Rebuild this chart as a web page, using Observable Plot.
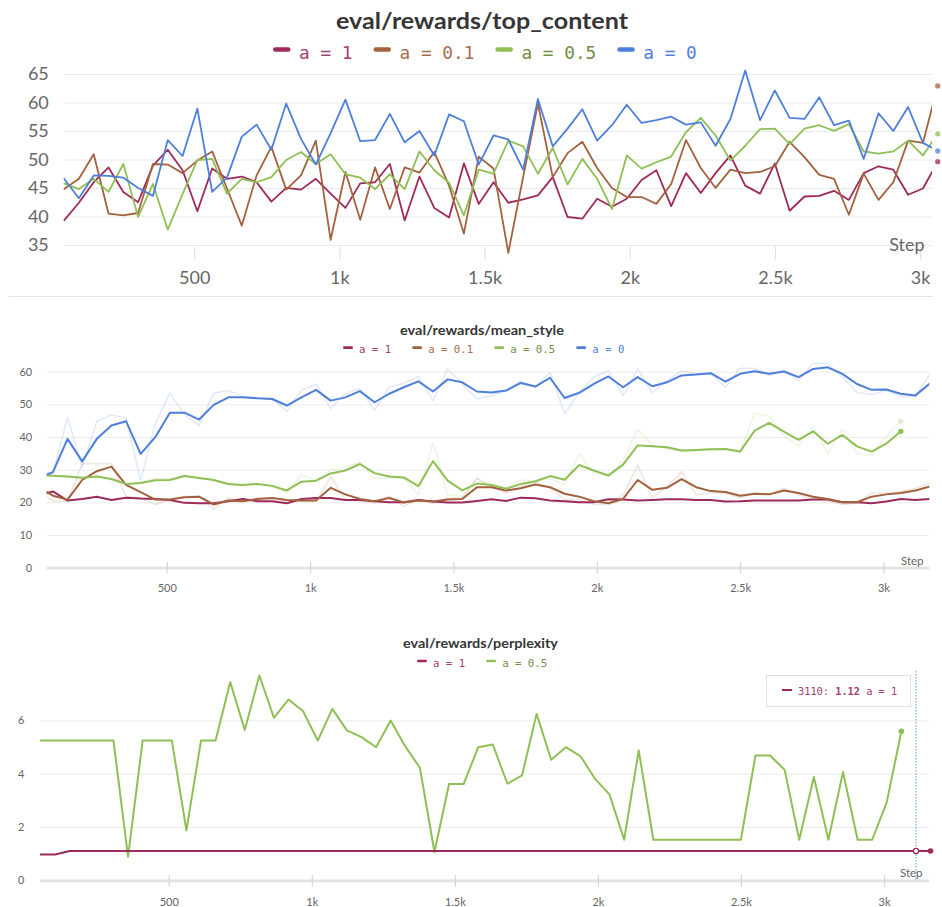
<!DOCTYPE html>
<html>
<head>
<meta charset="utf-8">
<script src="https://cdn.jsdelivr.net/npm/d3@7"></script>
<script src="https://cdn.jsdelivr.net/npm/@observablehq/plot@0.6"></script>
<style>
html,body{margin:0;padding:0;background:#fff;}
#page{position:relative;width:942px;height:907px;overflow:hidden;font-family:Lato,"Open Sans",sans-serif;}
.panel{position:absolute;left:0;}
#sep{position:absolute;left:9px;top:296px;width:924px;height:0;border-top:1px solid #e3e3e3;}
#tip{position:absolute;left:766px;top:675px;width:145px;height:32px;border:1px solid #e0e0e0;background:#fff;box-sizing:border-box;font-family:"DejaVu Sans Mono",monospace;font-size:10.3px;color:#a3406f;display:flex;align-items:center;white-space:pre;}
#tip .sw{display:inline-block;width:10px;height:2.6px;background:#9e2a5b;margin-left:15px;margin-right:6px;position:relative;top:-1px;}
#overlay{position:absolute;left:0;top:0;pointer-events:none;}
</style>
</head>
<body>
<div id="page">
  <div id="p1" class="panel" style="top:60px"></div>
  <div id="sep"></div>
  <div id="p2" class="panel" style="top:358px"></div>
  <div id="p3" class="panel" style="top:668px"></div>
  <div id="tip"></div>
  <svg id="overlay" width="942" height="907"></svg>
</div>
<script>
// ---------------- data ----------------
const steps = [50,101,152,203,254,305,356,407,458,509,560,611,662,713,764,815,866,917,968,1019,1070,1121,1172,1223,1274,1325,1376,1427,1478,1529,1580,1631,1682,1733,1784,1835,1886,1937,1988,2039,2090,2141,2192,2243,2294,2345,2396,2447,2498,2549,2600,2651,2702,2753,2804,2855,2906,2957,3008,3059,3110,3161,3212];

const seriesNames = ["a = 1", "a = 0.1", "a = 0.5", "a = 0"];
const xTickValues = [500, 1000, 1500, 2000, 2500, 3000];

// eval/rewards/top_content
const topTitle = "eval/rewards/top_content";
const topYTicks = [35, 40, 45, 50, 55, 60, 65];
const topA1 = [39.4,42.5,46.1,48.7,44.4,42.6,49.0,51.8,48.2,41.0,
  48.5,46.7,47.1,46.1,42.7,45.1,44.8,46.7,44.1,41.6,
  45.9,46.1,49.3,39.4,47.1,41.6,39.9,49.4,42.3,46.1,
  42.5,43.1,43.8,47.0,40.0,39.7,43.2,41.8,43.2,46.5,
  48.2,41.9,47.7,44.2,47.7,50.8,45.5,44.1,49.4,41.1,
  43.6,43.7,44.6,43.0,47.7,48.9,48.3,43.9,45.0,49.7];
const topA01 = [44.9,46.7,51.0,40.6,40.3,40.7,49.3,49.2,47.7,49.9,
  51.5,45.0,38.5,47.3,52.3,44.8,47.3,53.4,36.0,47.9,
  39.5,48.7,41.4,48.7,47.8,51.4,45.5,37.1,50.6,48.5,
  33.7,47.0,59.9,47.0,51.2,53.2,48.6,45.1,43.5,43.5,
  42.3,45.8,53.5,48.6,45.1,48.3,47.7,47.9,48.9,53.2,
  50.5,47.4,46.7,40.4,47.6,43.0,46.1,53.4,53.0,63.0];
const topA05 = [45.9,44.9,46.7,44.4,49.3,40.0,45.8,37.8,44.0,50.0,
  50.2,44.1,46.7,46.1,47.0,50.0,51.4,49.3,51.0,47.5,
  46.9,44.9,47.5,44.9,51.5,48.2,46.0,40.3,48.3,47.6,
  53.4,52.4,47.6,52.1,45.7,50.2,46.7,41.4,50.8,48.5,
  49.6,50.6,54.9,57.4,54.3,49.9,52.5,55.4,55.5,52.8,
  55.5,56.1,55.1,56.3,51.5,51.1,51.5,53.4,50.8,54.6];
const topA0 = [46.7,43.3,47.3,47.2,46.9,45.1,43.7,53.5,50.7,59.0,
  44.4,46.9,54.1,56.2,51.8,59.9,53.7,49.2,54.7,60.6,
  53.3,53.5,58.1,53.1,55.1,50.8,58.0,56.8,49.2,54.3,
  53.6,48.3,60.7,52.4,55.5,58.9,53.4,56.1,59.7,56.5,
  57.0,57.6,56.2,56.6,52.5,57.2,65.7,57.0,62.2,57.4,
  57.2,61.0,56.1,56.9,50.2,58.2,55.1,59.3,53.0,51.6];

// eval/rewards/mean_style (smoothed + raw)
const msTitle = "eval/rewards/mean_style";
const msYTicks = [0, 10, 20, 30, 40, 50, 60];
const msA1 = [22.3,23.5,20.7,21.2,21.9,20.9,21.6,21.3,21.2,20.9,
  20.0,19.9,19.9,20.5,21.2,20.5,20.5,19.9,21.2,21.5,
  21.5,20.9,20.9,20.5,20.2,20.2,20.9,20.4,20.1,20.1,
  20.6,21.1,20.6,21.6,21.4,20.7,20.5,20.2,20.2,21.1,
  21.0,20.7,20.9,21.1,21.1,20.9,20.9,20.4,20.5,20.7,
  20.7,20.7,20.7,21.0,21.0,20.2,20.2,19.9,20.4,21.2,
  20.9,21.2,21.4];
const msA01 = [24.9,22.2,21.0,27.0,29.7,31.1,25.5,23.3,21.0,21.0,
  21.7,21.9,19.5,20.7,20.5,21.2,21.5,20.9,20.7,20.7,
  24.6,22.6,21.2,20.5,21.5,20.1,20.7,20.4,21.0,21.2,
  24.8,24.8,23.8,24.5,25.6,24.8,22.8,21.9,20.5,19.9,
  21.2,27.0,24.0,24.6,27.3,24.8,23.6,23.3,22.2,22.8,
  22.6,23.8,23.0,21.9,21.2,20.2,20.2,21.9,22.6,23.0,
  23.8,25.0,24.5];
const msA05 = [28.5,28.3,28.1,27.7,28.1,27.3,25.8,26.1,26.9,27.0,
  28.2,27.6,27.0,25.8,25.5,25.8,25.2,23.8,26.5,26.8,
  29.0,29.9,31.9,29.1,28.1,27.8,25.1,32.8,26.8,23.8,
  25.9,25.5,24.3,25.8,26.6,28.2,27.1,31.6,29.9,28.4,
  31.7,37.6,37.3,37.0,36.0,36.2,36.4,36.5,35.7,42.1,
  44.5,41.8,39.3,41.9,38.1,40.8,37.3,35.7,38.1,41.9];
const msA0 = [27.6,29.4,39.6,32.7,39.6,43.7,45.0,35.0,40.1,47.6,
  47.6,45.5,50.0,52.3,52.3,52.0,51.8,49.8,52.3,54.6,
  51.3,52.3,54.2,50.8,53.4,55.4,57.2,54.1,57.8,56.9,
  54.1,53.8,54.4,56.7,55.6,58.3,52.1,53.7,56.4,58.7,
  55.4,58.5,55.7,56.9,59.0,59.3,59.7,57.1,59.5,60.3,
  59.5,60.2,58.5,61.0,61.5,59.5,56.4,54.6,54.7,53.4,
  52.9,56.6,59.8];
const msRawA01 = [24.0,20.5,20.5,32.0,32.0,32.0,22.0,21.5,19.5,21.0,
  22.0,22.0,18.0,21.5,20.5,21.5,21.5,20.5,20.5,20.5,
  28.0,21.0,20.5,20.0,22.0,19.0,21.0,20.0,21.5,21.5,
  27.5,25.0,23.0,25.0,26.5,24.5,21.0,21.0,19.5,19.5,
  22.5,31.5,21.5,25.0,29.5,22.5,23.0,23.0,21.5,23.0,
  22.5,24.5,22.5,21.0,20.5,19.5,20.0,23.0,23.0,23.5,
  24.5,26.0,24.5];
const msRawA05 = [28.5,28.3,28.0,27.5,28.3,27.0,25.5,26.3,27.5,27.3,
  28.5,27.5,27.0,25.5,25.5,26.0,25.0,23.0,28.5,27.0,
  30.0,31.0,32.5,27.5,27.5,27.5,22.5,38.5,22.5,22.0,
  27.5,25.0,24.5,27.0,26.5,27.5,25.5,35.0,29.0,28.0,
  33.0,42.5,37.5,36.5,35.5,36.0,36.3,36.5,35.5,47.5,
  46.5,40.5,37.5,43.5,35.0,42.5,35.0,34.5,40.5,45.0];
const msRawA0 = [28.0,29.0,46.2,30.9,45.0,46.9,46.0,26.8,44.2,53.6,
  47.0,43.7,53.6,54.4,52.6,52.1,51.8,48.1,54.4,56.4,
  48.8,53.5,54.9,48.3,55.4,56.6,58.7,51.3,61.0,56.4,
  51.8,52.8,54.4,57.4,55.4,60.0,47.2,53.8,58.5,60.5,
  52.8,61.0,53.8,57.4,60.3,59.5,59.5,55.4,61.2,61.2,
  59.0,60.5,57.4,62.8,62.6,58.5,53.8,53.2,54.4,52.6,
  52.6,59.5,62.6];

// eval/rewards/perplexity
const pxTitle = "eval/rewards/perplexity";
const pxYTicks = [0, 2, 4, 6];
const pxA1 = [0.99,0.99,1.12,1.12,1.12,1.12,1.12,1.12,1.12,1.12,
  1.12,1.12,1.12,1.12,1.12,1.12,1.12,1.12,1.12,1.12,
  1.12,1.12,1.12,1.12,1.12,1.12,1.12,1.12,1.12,1.12,
  1.12,1.12,1.12,1.12,1.12,1.12,1.12,1.12,1.12,1.12,
  1.12,1.12,1.12,1.12,1.12,1.12,1.12,1.12,1.12,1.12,
  1.12,1.12,1.12,1.12,1.12,1.12,1.12,1.12,1.12,1.12,
  1.12,1.12];
const pxA05 = [5.26,5.26,5.26,5.26,5.26,5.26,0.9,5.26,5.26,5.26,
  1.89,5.26,5.26,7.45,5.66,7.7,6.11,6.8,6.36,5.26,
  6.45,5.64,5.39,5.01,6.01,5.04,4.24,1.08,3.63,3.63,
  5.01,5.11,3.64,3.95,6.26,4.54,5.01,4.68,3.83,3.23,
  1.54,4.89,1.54,1.54,1.54,1.54,1.54,1.54,1.54,4.70,
  4.70,4.16,1.54,3.89,1.54,4.08,1.54,1.54,2.95,5.61];
const pxHoverStep = 3110;
const pxHoverValue = 1.12;

// ---------------- style ----------------
const lineColors = {"a = 1": "#9e2a5b", "a = 0.1": "#a3613e", "a = 0.5": "#8fbf55", "a = 0": "#4d7fdb"};
const textColors = {"a = 1": "#a3406f", "a = 0.1": "#a86d4e", "a = 0.5": "#6e8f40", "a = 0": "#4d7fdb"};
const axisColor = "#666";
const fmtK = d => d >= 1000 ? (d / 1000) + "k" : String(d);

const xOf = (d, i) => steps[i];
function line(values, name, extra = {}) {
  return Plot.line(values, {x: xOf, y: d => d, stroke: lineColors[name], strokeWidth: 2, clip: true, ...extra});
}
function lastDot(values, name, extra = {}) {
  const idx = [values.length - 1];
  return Plot.dot(idx, {x: i => steps[i], y: i => values[i], fill: lineColors[name], r: 2.6, ...extra});
}

// ---------------- chart 1 ----------------
const topSeries = [[topA1, "a = 1"], [topA01, "a = 0.1"], [topA05, "a = 0.5"], [topA0, "a = 0"]];
const c1 = Plot.plot({
  width: 942, height: 230,
  marginTop: 8.3, marginBottom: 30.75, marginLeft: 63.6, marginRight: 10,
  style: {fontFamily: "Lato, 'Open Sans', sans-serif", background: "transparent", overflow: "visible"},
  x: {domain: [50, 3041], label: null},
  y: {domain: [32.5, 66], label: null},
  marks: [
    Plot.gridY(topYTicks, {stroke: "#e9e9e9", strokeOpacity: 1}),
    Plot.ruleX(xTickValues, {y1: 34.7, y2: 32.5, stroke: "#dcdcdc"}),
    Plot.axisX(xTickValues, {tickSize: 0, tickPadding: 11, tickFormat: fmtK, fontSize: 18, color: axisColor}),
    Plot.axisY(topYTicks, {tickSize: 0, tickPadding: 15.3, fontSize: 18, color: axisColor}),
    ...topSeries.map(([v, n]) => line(v, n, {strokeWidth: 1.8})),
    ...topSeries.map(([v, n]) => lastDot(v, n, {fillOpacity: 0.75})),
    Plot.text(["Step"], {frameAnchor: "bottom-right", textAnchor: "end", lineAnchor: "bottom", dx: -8, dy: -8.5, fontSize: 18, fill: axisColor})
  ]
});
document.getElementById("p1").appendChild(c1);

// ---------------- chart 2 ----------------
const msSeries = [[msA1, "a = 1"], [msA01, "a = 0.1"], [msA05, "a = 0.5"], [msA0, "a = 0"]];
const msRaw = [[msRawA01, "a = 0.1"], [msRawA05, "a = 0.5"], [msRawA0, "a = 0"]];
const c2 = Plot.plot({
  width: 942, height: 242,
  marginTop: 3.9, marginBottom: 32.3, marginLeft: 46.7, marginRight: 12.7,
  style: {fontFamily: "Lato, 'Open Sans', sans-serif", background: "transparent", overflow: "visible"},
  x: {domain: [81, 3160], label: null},
  y: {domain: [0, 63], label: null},
  marks: [
    Plot.gridY(msYTicks.filter(d => d > 0), {stroke: "#ececec", strokeOpacity: 1}),
    Plot.ruleY([0], {stroke: "#e2e2e2", strokeWidth: 2.7}),
    Plot.ruleX(xTickValues, {y1: 1.85, y2: -1.7, stroke: "#d6d6d6", strokeWidth: 1.2}),
    Plot.axisX(xTickValues, {tickSize: 0, tickPadding: 15.5, tickFormat: fmtK, fontSize: 11, color: axisColor}),
    Plot.axisY(msYTicks, {tickSize: 0, tickPadding: 15, fontSize: 11, color: axisColor}),
    ...msRaw.map(([v, n]) => line(v, n, {strokeWidth: 1.6, strokeOpacity: 0.16})),
    ...msSeries.map(([v, n]) => line(v, n, {strokeWidth: 2})),
    ...msRaw.map(([v, n]) => lastDot(v, n, {fillOpacity: 0.25})),
    ...msSeries.map(([v, n]) => lastDot(v, n, {fillOpacity: n === "a = 0.5" ? 1 : 0.6})),
    Plot.text(["Step"], {frameAnchor: "bottom-right", textAnchor: "end", lineAnchor: "bottom", dx: -6.3, dy: -3.5, fontSize: 11.5, fill: axisColor})
  ]
});
document.getElementById("p2").appendChild(c2);

// ---------------- chart 3 ----------------
const c3 = Plot.plot({
  width: 942, height: 239,
  marginTop: 3, marginBottom: 26.7, marginLeft: 40, marginRight: 12.8,
  style: {fontFamily: "Lato, 'Open Sans', sans-serif", background: "transparent", overflow: "visible"},
  x: {domain: [50, 3158], label: null},
  y: {domain: [0, 7.85], label: null},
  marks: [
    Plot.gridY(pxYTicks.filter(d => d > 0), {stroke: "#ececec", strokeOpacity: 1}),
    Plot.ruleY([0], {stroke: "#e2e2e2", strokeWidth: 2.7}),
    Plot.ruleX(xTickValues, {y1: 0.2, y2: -0.24, stroke: "#d6d6d6", strokeWidth: 1.2}),
    Plot.axisX(xTickValues, {tickSize: 0, tickPadding: 16.9, tickFormat: fmtK, fontSize: 11, color: axisColor}),
    Plot.axisY(pxYTicks, {tickSize: 0, tickPadding: 16, fontSize: 11, color: axisColor}),
    line(pxA05, "a = 0.5", {strokeWidth: 2}),
    line(pxA1, "a = 1", {strokeWidth: 2}),
    lastDot(pxA05, "a = 0.5", {r: 2.8}),
    lastDot(pxA1, "a = 1", {r: 2.8}),
    Plot.ruleX([pxHoverStep], {stroke: "#5b9bd5", strokeWidth: 1, strokeDasharray: "1.5,1.5"}),
    Plot.dot([pxHoverStep], {x: d => d, y: () => pxHoverValue, r: 2.6, stroke: lineColors["a = 1"], strokeWidth: 1.3, fill: "#fff"}),
    Plot.text(["Step"], {frameAnchor: "bottom-right", textAnchor: "end", lineAnchor: "bottom", dx: -7.2, dy: -3.8, fontSize: 11.5, fill: axisColor})
  ]
});
document.getElementById("p3").appendChild(c3);

// tooltip
document.getElementById("tip").innerHTML =
  '<span class="sw"></span>' + pxHoverStep + ': <b>' + pxHoverValue.toFixed(2) + '</b> a = 1';

// ---------------- titles & legends ----------------
const ov = d3.select("#overlay");
function title(text, cx, baseline, size, width) {
  ov.append("text").text(text)
    .attr("x", cx).attr("y", baseline).attr("text-anchor", "middle")
    .attr("font-family", "Lato, 'Open Sans', sans-serif").attr("font-weight", 700)
    .attr("font-size", size).attr("fill", "#363636")
    .attr("textLength", width).attr("lengthAdjust", "spacingAndGlyphs");
}
function legend(names, x0, baseline, fontSize, charW, swW, swH, swUp, gap, itemGap) {
  let x = x0;
  for (const n of names) {
    ov.append("rect").attr("x", x).attr("y", baseline - swUp - swH / 2).attr("width", swW).attr("height", swH)
      .attr("rx", swH / 2).attr("fill", lineColors[n]);
    x += swW + gap;
    const w = n.length * charW;
    ov.append("text").text(n).attr("x", x).attr("y", baseline)
      .attr("font-family", "'DejaVu Sans Mono', monospace").attr("font-size", fontSize)
      .attr("fill", textColors[n]).attr("textLength", w).attr("lengthAdjust", "spacingAndGlyphs")
      .style("white-space", "pre");
    x += w + itemGap;
  }
}
title(topTitle, 482, 29.3, 22, 292);
legend(seriesNames, 273, 59.3, 17.6, 10.7, 17.5, 4.5, 9.8, 8.5, 21);
title(msTitle, 482, 334.5, 13.5, 164);
legend(seriesNames, 343, 353.3, 10.6, 6.43, 10, 2.7, 5.6, 6, 21);
title(pxTitle, 480.5, 648, 13.5, 155);
legend(["a = 1", "a = 0.5"], 417, 666.5, 10.6, 6.43, 10, 2.7, 5.5, 6, 21);
</script>
</body>
</html>
